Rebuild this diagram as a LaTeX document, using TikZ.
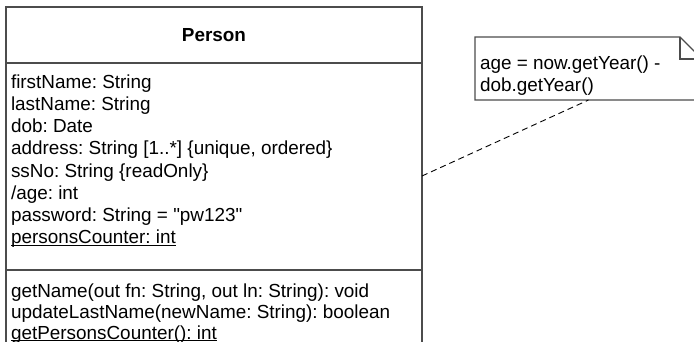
\documentclass[tikz,border=0pt]{standalone}
\usepackage{fontspec}
\setmainfont{Liberation Sans}
\frenchspacing
\usetikzlibrary{positioning, calc}
\newcommand{\classul}[1]{\underline{\smash{#1}}}

\begin{document}
\begin{tikzpicture}[
  x=1pt, y=-1pt,
  every node/.style={font=\fontsize{18.9}{22.1}\selectfont, inner sep=0pt, outer sep=0pt},
  compart/.style={draw=black!70, line width=1.2pt, minimum width=416pt, anchor=north west},
  members/.style={align=left, anchor=north west},
  noteline/.style={draw=black!70, line width=1.2pt},
  notelink/.style={dash pattern=on 6pt off 4pt, line width=0.9pt}
]
  \useasboundingbox (0,0) rectangle (694,342);
  \clip (0,0) rectangle (694,342);
  % class Person
  \node[compart, minimum height=56pt] (person) at (6,7) {\textbf{Person}};
  \node[compart, minimum height=207pt] (attrs) at (person.south west) {};
  \node[compart, minimum height=130pt] (ops) at (attrs.south west) {};
  \node[members] (attrlist) at ([shift={(5pt,-12pt)}]attrs.north west) {firstName: String\\
    lastName: String\\
    dob: Date\\
    address: String [1..*] \{unique, ordered\}\\
    ssNo: String \{readOnly\}\\
    /age: int\\
    password: String = \textquotedbl pw123\textquotedbl\\
    \classul{personsCounter: int}};
  \node[members, font=\fontsize{18.9}{20.7}\selectfont] (oplist) at ([shift={(5pt,-14pt)}]ops.north west) {getName(out fn: String, out ln: String): void\\
    updateLastName(newName: String): boolean\\
    \classul{getPersonsCounter(): int}};
  % note
  \node[minimum width=227pt, minimum height=63pt, anchor=north west] (note) at (475,37) {};
  \draw[noteline] (note.north west) -- ([xshift=-22pt]note.north east) -- ([yshift=-22pt]note.north east)
    -- (note.south east) -- (note.south west) -- cycle;
  \draw[noteline] ([xshift=-22pt]note.north east) |- ([yshift=-22pt]note.north east);
  \node[members] (notetext) at ([shift={(5pt,-19pt)}]note.north west) {age = now.getYear() -\\
    dob.getYear()};
  \draw[notelink] ([yshift=-9.5pt]attrs.east) -- (note.south);
\end{tikzpicture}
\end{document}
